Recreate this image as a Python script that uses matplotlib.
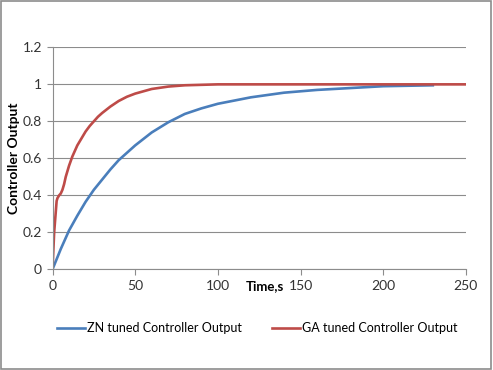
import matplotlib
matplotlib.use("Agg")
import matplotlib.pyplot as plt
from matplotlib.patches import Rectangle

plt.rcParams["font.family"] = ["Lato", "DejaVu Sans"]

# ZN tuned controller output
zn_t = [0, 2.5, 5, 10, 15, 20, 25, 30, 35, 40, 45, 50, 60, 70, 80, 90, 100, 120, 140, 160,
        180, 200, 230]
zn_y = [0, 0.055, 0.11, 0.21, 0.29, 0.365, 0.43, 0.485, 0.54, 0.59, 0.63, 0.67, 0.74, 0.795,
        0.84, 0.87, 0.895, 0.93, 0.955, 0.97, 0.98, 0.99, 0.995]

# GA tuned controller output
ga_t = [0, 1, 2.5, 3, 4, 5, 6, 7, 8, 9, 10, 11, 12, 13, 15, 17, 20, 22.5, 25, 27.5, 30, 35,
        40, 45, 50, 60, 70, 80, 100, 150, 250]
ga_y = [0, 0.2, 0.37, 0.385, 0.40, 0.41, 0.43, 0.46, 0.50, 0.53, 0.56, 0.585, 0.61, 0.63,
        0.67, 0.70, 0.745, 0.775, 0.80, 0.825, 0.845, 0.88, 0.91, 0.933, 0.95, 0.975, 0.988,
        0.995, 1.0, 1.0, 1.0]

x_ticks = [0, 50, 100, 150, 200, 250]
y_ticks = [0, 0.2, 0.4, 0.6, 0.8, 1, 1.2]
y_labels = ["0", "0.2", "0.4", "0.6", "0.8", "1", "1.2"]

fig = plt.figure(figsize=(4.93, 3.70), dpi=100)
ax = fig.add_axes([0.1065, 0.272, 0.8385, 0.600])

ax.plot(zn_t, zn_y, color="#4A7EBB", lw=1.9, label="ZN tuned Controller Output")
ax.plot(ga_t, ga_y, color="#BE4B48", lw=1.9, label="GA tuned Controller Output")

ax.set_xlim(0, 250)
ax.set_ylim(0, 1.2)
ax.set_xticks(x_ticks)
ax.set_yticks(y_ticks)
ax.set_yticklabels(y_labels)
ax.grid(axis="y", color="#8c8c8c", lw=0.8)
ax.set_axisbelow(True)
for s in ["top", "right"]:
    ax.spines[s].set_visible(False)
for s in ["left", "bottom"]:
    ax.spines[s].set_color("#8c8c8c")
ax.tick_params(colors="#8c8c8c", length=4, width=0.8, labelcolor="#333333", labelsize=10)

fig.text(0.0285, 0.572, "Controller Output", rotation=90, ha="center", va="center",
         fontsize=10, fontweight="bold")
fig.text(0.538, 0.226, "Time,s", ha="center", va="center", fontsize=9.5, fontweight="bold")

fig.legend(loc="center", bbox_to_anchor=(0.522, 0.113), ncol=2, frameon=False,
           fontsize=9, handlelength=2.2, handletextpad=0.2, columnspacing=2.4)

fig.patches.append(Rectangle((0.002, 0.003), 0.994, 0.993, transform=fig.transFigure,
                             fill=False, edgecolor="#8c8c8c", lw=1.2))

fig.savefig("out.png", dpi=100)
